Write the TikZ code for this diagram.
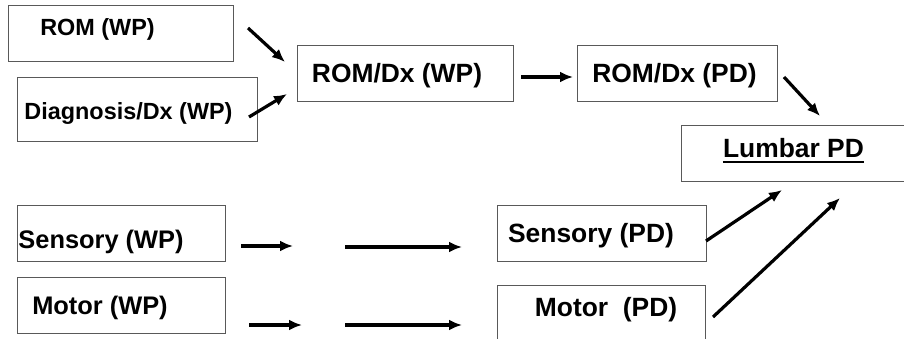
\documentclass[tikz,border=0pt]{standalone}
\usepackage{fontspec}
\setmainfont{Liberation Sans}
\usetikzlibrary{arrows.meta}
\usetikzlibrary{positioning}

\begin{document}
\begin{tikzpicture}[x=1pt, y=-1pt,
    box/.style={draw=black!65, line width=1pt, inner sep=0pt},
    txt/.style={inner sep=0pt, yshift=-2.5pt, font=\fontsize{26.4}{30}\selectfont\bfseries},
    smtxt/.style={inner sep=0pt, yshift=-2.5pt, font=\fontsize{23.4}{28}\selectfont\bfseries},
    mdtxt/.style={inner sep=0pt, yshift=-2.5pt, font=\fontsize{25.4}{30}\selectfont\bfseries},
    flow/.style={-{Latex[length=13pt,width=11pt]}, line width=3.2pt}]
    \useasboundingbox (0,0) rectangle (904,338);
    \clip (0,0) rectangle (904,338);

    % boxes
    \node[box, minimum width=225, minimum height=56] (romwp) at (120.5,33) {};
    \node[box, minimum width=240, minimum height=64] (diagwp) at (137,109) {};
    \node[box, minimum width=216, minimum height=56] (romdxwp) at (405,73) {};
    \node[box, minimum width=200, minimum height=56] (romdxpd) at (677,73) {};
    \node[box, minimum width=249, minimum height=56] (lumbar) at (805.5,153) {};
    \node[box, minimum width=208, minimum height=56] (senswp) at (121,233) {};
    \node[box, minimum width=208, minimum height=56] (motwp) at (121,305) {};
    \node[box, minimum width=209, minimum height=56] (senspd) at (601.5,233) {};
    \node[box, minimum width=208, minimum height=60] (motpd) at (601,315) {};

    % texts
    \node[smtxt] (romwp-t) at (97.5,27) {ROM (WP)};
    \node[smtxt] (diagwp-t) at (128.5,111) {Diagnosis/Dx (WP)};
    \node[txt] (romdxwp-t) at (397,73) {ROM/Dx (WP)};
    \node[txt] (romdxpd-t) at (674.5,73) {ROM/Dx (PD)};
    \node[txt] (lumbar-t) at (793.5,146) {Lumbar PD};
    \draw[line width=2.6pt] ([yshift=-4pt]lumbar-t.base west) -- ([yshift=-4pt]lumbar-t.base east);
    \node[mdtxt] (senswp-t) at (101,239) {Sensory (WP)};
    \node[mdtxt] (motwp-t) at (100,305) {Motor (WP)};
    \node[txt] (senspd-t) at (591,233) {Sensory (PD)};
    \node[txt] (motpd-t) at (606,307) {Motor\ \ (PD)};

    % arrow ends
    \coordinate (a1) at (248,28);   \coordinate (b1) at (285,62);
    \coordinate (a2) at (249,117);  \coordinate (b2) at (287,94);
    \coordinate (a3) at (521,77);   \coordinate (b3) at (573,77);
    \coordinate (a4) at (784,77);   \coordinate (b4) at (820,116);
    \coordinate (a5) at (241,246);  \coordinate (b5) at (293,246);
    \coordinate (a6) at (249,325);  \coordinate (b6) at (302,325);
    \coordinate (a7) at (345,247);  \coordinate (b7) at (462,247);
    \coordinate (a8) at (345,325);  \coordinate (b8) at (462,325);
    \coordinate (a9) at (706,241);  \coordinate (b9) at (782,190);
    \coordinate (a10) at (713,317); \coordinate (b10) at (840,198);

    \foreach \i in {1,...,10}
        \draw[flow] (a\i) -- (b\i);
\end{tikzpicture}
\end{document}
